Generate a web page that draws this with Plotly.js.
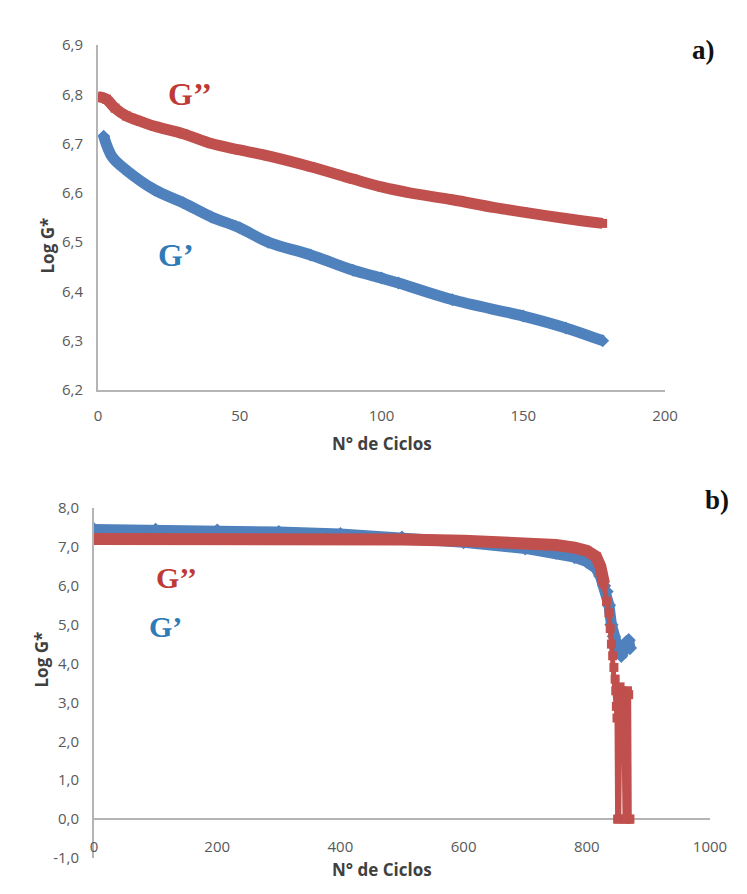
<!DOCTYPE html>
<html>
<head>
<meta charset="utf-8">
<script src="https://cdn.plot.ly/plotly-3.0.1.min.js"></script>
<style>html,body{margin:0;padding:0;background:#fff}#chart{width:747px;height:894px}</style>
</head>
<body>
<div id="chart"></div>
<script>
// ---- Panel a) ----
const aCyclesGpp = [0, 3, 6, 10, 15, 20, 30, 40, 50, 60, 75, 90, 100, 110, 125, 140, 150, 165, 178];
const aGpp       = [6.795, 6.79, 6.772, 6.756, 6.745, 6.735, 6.72, 6.70, 6.687, 6.675, 6.653, 6.628, 6.612, 6.60, 6.586, 6.57, 6.561, 6.548, 6.538];
const aCyclesGp  = [2, 5, 10, 20, 30, 40, 50, 60, 75, 90, 100, 106, 125, 150, 165, 178];
const aGp        = [6.715, 6.673, 6.646, 6.606, 6.58, 6.551, 6.529, 6.50, 6.474, 6.443, 6.427, 6.417, 6.383, 6.35, 6.326, 6.30];
const aYTicks     = [6.2, 6.3, 6.4, 6.5, 6.6, 6.7, 6.8, 6.9];
const aYTickText  = ["6,2", "6,3", "6,4", "6,5", "6,6", "6,7", "6,8", "6,9"];
const aXTicks     = [0, 50, 100, 150, 200];

// ---- Panel b) ----
const bCyclesGp = [0, 100, 200, 300, 400, 500, 600, 700, 750, 780, 800, 815, 822, 828, 832, 836, 840, 844, 848, 852, 856, 860, 864, 868, 870];
const bGp       = [7.45, 7.44, 7.42, 7.38, 7.33, 7.24, 7.12, 6.96, 6.85, 6.74, 6.62, 6.45, 6.25, 6.0, 5.85, 5.5, 5.0, 4.7, 4.5, 4.3, 4.2, 4.35, 4.55, 4.6, 4.4];
const bCyclesGpp = [0, 100, 200, 300, 400, 500, 600, 700, 750, 780, 800, 815, 822, 828, 832, 836, 838, 840, 842, 844, 846, 847, 848, 849, 850, 852, 854, 856, 858, 860, 862, 864, 866, 868, 869, 870];
const bGpp       = [7.2, 7.21, 7.22, 7.22, 7.21, 7.19, 7.16, 7.11, 7.05, 6.98, 6.9, 6.75, 6.5, 6.05, 5.6, 5.3, 4.9, 4.5, 4.2, 3.9, 3.6, 3.3, 2.9, 2.6, 0, 0, 3.4, 3.1, 3.3, 2.8, 0, 0, 3.3, 3.2, 0, 0];
const bYTicks    = [-1, 0, 1, 2, 3, 4, 5, 6, 7, 8];
const bYTickText = ["-1,0", "0,0", "1,0", "2,0", "3,0", "4,0", "5,0", "6,0", "7,0", "8,0"];
const bXTicks    = [0, 200, 400, 600, 800, 1000];

const RED = "#C0504D", BLUE = "#4F81BD";
const W = 747, H = 894;
const px = v => v / W, py = v => 1 - v / H;

const traces = [
  {x: aCyclesGp, y: aGp, xaxis: "x", yaxis: "y", mode: "lines+markers", line: {color: BLUE, width: 11, shape: "spline"}, marker: {symbol: "diamond", size: 10, color: BLUE}},
  {x: aCyclesGpp, y: aGpp, xaxis: "x", yaxis: "y", mode: "lines+markers", line: {color: RED, width: 11, shape: "spline"}, marker: {symbol: "square", size: 9, color: RED}},
  {x: bCyclesGp, y: bGp, xaxis: "x2", yaxis: "y2", mode: "lines+markers", line: {color: BLUE, width: 11}, marker: {symbol: "diamond", size: 11, color: BLUE}},
  {x: bCyclesGpp, y: bGpp, xaxis: "x2", yaxis: "y2", mode: "lines+markers", line: {color: RED, width: 5}, marker: {symbol: "square", size: 9, color: RED}},
  {x: bCyclesGpp.slice(0, 14), y: bGpp.slice(0, 14), xaxis: "x2", yaxis: "y2", mode: "lines", line: {color: RED, width: 12}}
];

const tickFont = {family: "Open Sans, sans-serif", size: 15, color: "#595959"};
const titleFont = {family: "Open Sans, sans-serif", size: 17, color: "#404040", weight: "bold"};
const AX = "#B4B4B4";

const layout = {
  width: W, height: H,
  margin: {l: 0, r: 0, t: 0, b: 0},
  paper_bgcolor: "#fff", plot_bgcolor: "#fff",
  showlegend: false,
  xaxis: {domain: [px(98), px(665)], range: [0, 200], anchor: "y", tickvals: aXTicks, showgrid: false, zeroline: false,
          showline: true, linecolor: AX, linewidth: 2, ticks: "", tickfont: tickFont, ticklabelstandoff: 11},
  yaxis: {domain: [py(390), py(45)], range: [6.2, 6.9], anchor: "x", tickvals: aYTicks, ticktext: aYTickText, showgrid: false, zeroline: false,
          showline: true, linecolor: AX, linewidth: 2, ticks: "", tickfont: tickFont, ticklabelstandoff: 10},
  xaxis2: {domain: [px(94), px(710)], range: [0, 1000], anchor: "free", position: py(836), tickvals: bXTicks, showgrid: false, zeroline: false,
          showline: false, ticks: "", tickfont: tickFont},
  yaxis2: {domain: [py(858), py(508)], range: [-1, 8], anchor: "x2", tickvals: bYTicks, ticktext: bYTickText, showgrid: false,
          zeroline: true, zerolinecolor: AX, zerolinewidth: 2,
          showline: true, linecolor: AX, linewidth: 2, ticks: "", tickfont: tickFont, ticklabelstandoff: 10},
  annotations: [
    {xref: "paper", yref: "paper", x: px(382), y: py(444), text: "N° de Ciclos", showarrow: false, font: titleFont},
    {xref: "paper", yref: "paper", x: px(33), y: py(216), text: "Log G*", textangle: -90, showarrow: false, font: titleFont},
    {xref: "paper", yref: "paper", x: px(382), y: py(883), text: "N° de Ciclos", showarrow: false, font: titleFont},
    {xref: "paper", yref: "paper", x: px(27), y: py(690), text: "Log G*", textangle: -90, showarrow: false, font: titleFont},
    {xref: "paper", yref: "paper", x: px(717), y: py(33), text: "a)", showarrow: false, font: {family: "Liberation Serif, serif", size: 27, color: "#111", weight: "bold"}},
    {xref: "paper", yref: "paper", x: px(731), y: py(500), text: "b)", showarrow: false, font: {family: "Liberation Serif, serif", size: 27, color: "#111", weight: "bold"}},
    {xref: "paper", yref: "paper", x: px(166), y: py(74), text: "G’’", showarrow: false, font: {family: "Liberation Serif, serif", size: 32, color: "#BE3A36", weight: "bold"}},
    {xref: "paper", yref: "paper", x: px(156), y: py(235), text: "G’", showarrow: false, font: {family: "Liberation Serif, serif", size: 32, color: "#2F7BB8", weight: "bold"}},
    {xref: "paper", yref: "paper", x: px(154), y: py(577), text: "G’’", showarrow: false, font: {family: "Liberation Serif, serif", size: 30, color: "#BE3A36", weight: "bold"}},
    {xref: "paper", yref: "paper", x: px(147), y: py(645), text: "G’", showarrow: false, font: {family: "Liberation Serif, serif", size: 30, color: "#2F7BB8", weight: "bold"}}
  ]
};

Plotly.newPlot("chart", traces, layout, {displayModeBar: false, staticPlot: true});
</script>
</body>
</html>
